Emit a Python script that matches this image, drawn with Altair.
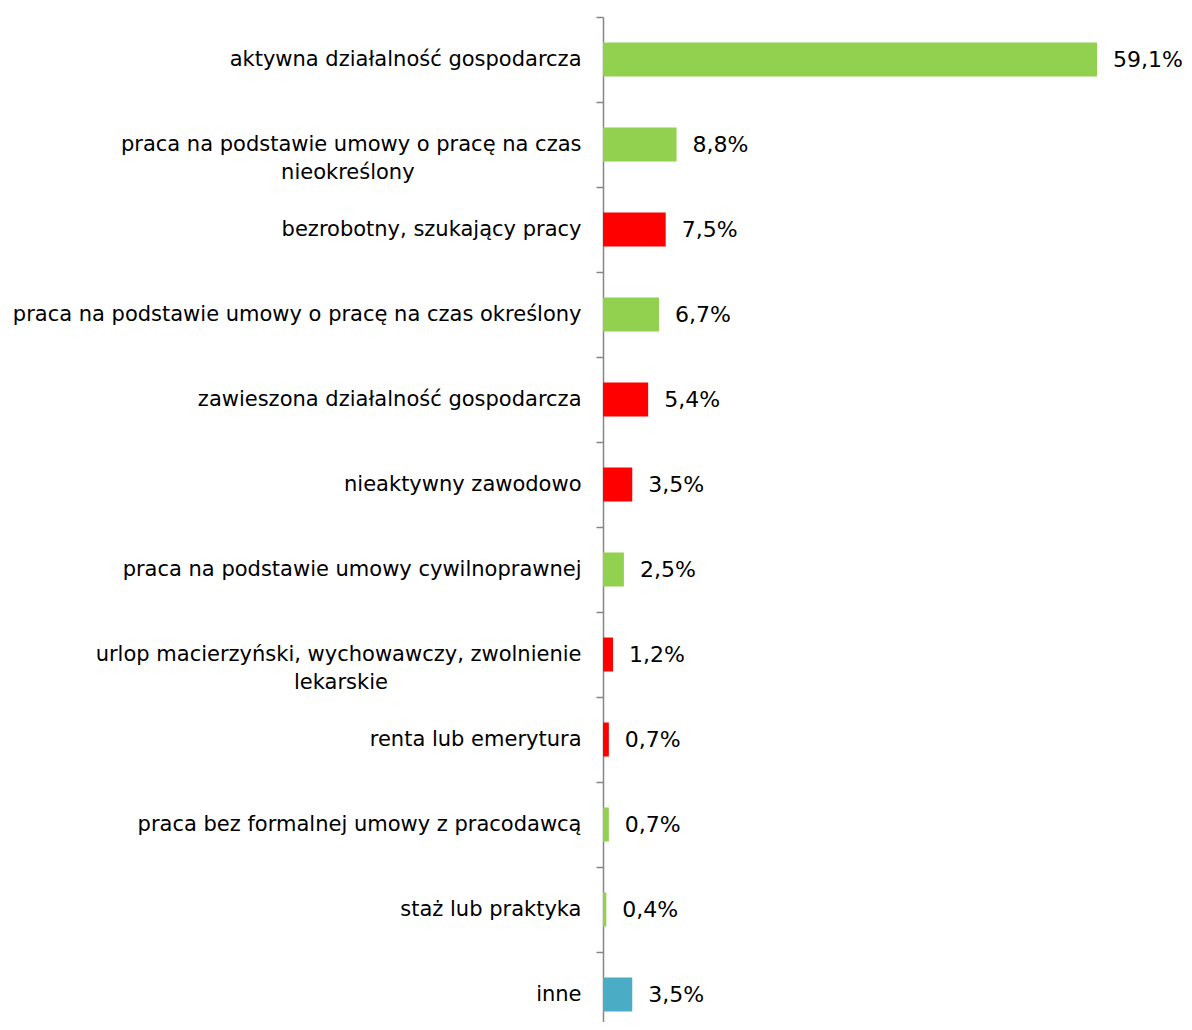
import altair as alt
import pandas as pd

categories = [
    "aktywna działalność gospodarcza",
    "praca na podstawie umowy o pracę na czas|nieokreślony",
    "bezrobotny, szukający pracy",
    "praca na podstawie umowy o pracę na czas określony",
    "zawieszona działalność gospodarcza",
    "nieaktywny zawodowo",
    "praca na podstawie umowy cywilnoprawnej",
    "urlop macierzyński, wychowawczy, zwolnienie|lekarskie",
    "renta lub emerytura",
    "praca bez formalnej umowy z pracodawcą",
    "staż lub praktyka",
    "inne",
]
values = [59.1, 8.8, 7.5, 6.7, 5.4, 3.5, 2.5, 1.2, 0.7, 0.7, 0.4, 3.5]
groups = ["praca", "praca", "brak", "praca", "brak", "brak", "praca", "brak", "brak", "praca", "praca", "inne"]

# second lines of wrapped labels are centred under the first line (Excel style)
NB = "\u00a0"
ZW = "\u200b"
center_pad = {"nieokreślony": 25, "lekarskie": 29}


def display(label):
    parts = label.split("|")
    if len(parts) == 2:
        parts[1] = parts[1] + NB * center_pad.get(parts[1], 0) + ZW
    return "|".join(parts)


df = pd.DataFrame({"cat": [display(c) for c in categories], "val": values, "grp": groups})
order = list(df["cat"])
df["lbl"] = df["val"].map(lambda v: f"{v:.1f}".replace(".", ",") + "%")

FONT = "DejaVu Sans"

y = alt.Y(
    "cat:N",
    sort=order,
    title=None,
    scale=alt.Scale(paddingInner=0, paddingOuter=0),
    axis=alt.Axis(
        labelExpr="split(datum.label, '|')",
        labelFont=FONT,
        labelFontSize=21,
        labelColor="#000000",
        labelLineHeight=28,
        labelPadding=15,
        labelLimit=0,
        tickBand="extent",
        tickSize=7,
        tickColor="#868686",
        tickWidth=1.5,
        domainColor="#868686",
        domainWidth=1.5,
        grid=False,
    ),
)

x = alt.X("val:Q", title=None, scale=alt.Scale(domain=[0, 69.5], nice=False), axis=None)

bars = alt.Chart(df).mark_bar(size=34).encode(
    y=y,
    x=x,
    color=alt.Color(
        "grp:N",
        scale=alt.Scale(domain=["praca", "brak", "inne"], range=["#92D050", "#FF0000", "#4BACC6"]),
        legend=None,
    ),
)

text = alt.Chart(df).mark_text(align="left", baseline="middle", dx=16, font=FONT, fontSize=22, color="#000000").encode(
    y=alt.Y("cat:N", sort=order),
    x=x,
    text="lbl:N",
)

chart = (
    alt.layer(bars, text)
    .properties(
        width=581,
        height=1020,
        autosize=alt.AutoSizeParams(type="none"),
        padding={"left": 595, "top": 9, "right": 0, "bottom": -15},
    )
    .configure_view(stroke=None)
)

chart.save("out.html", embed_options={"renderer": "svg", "actions": False})
